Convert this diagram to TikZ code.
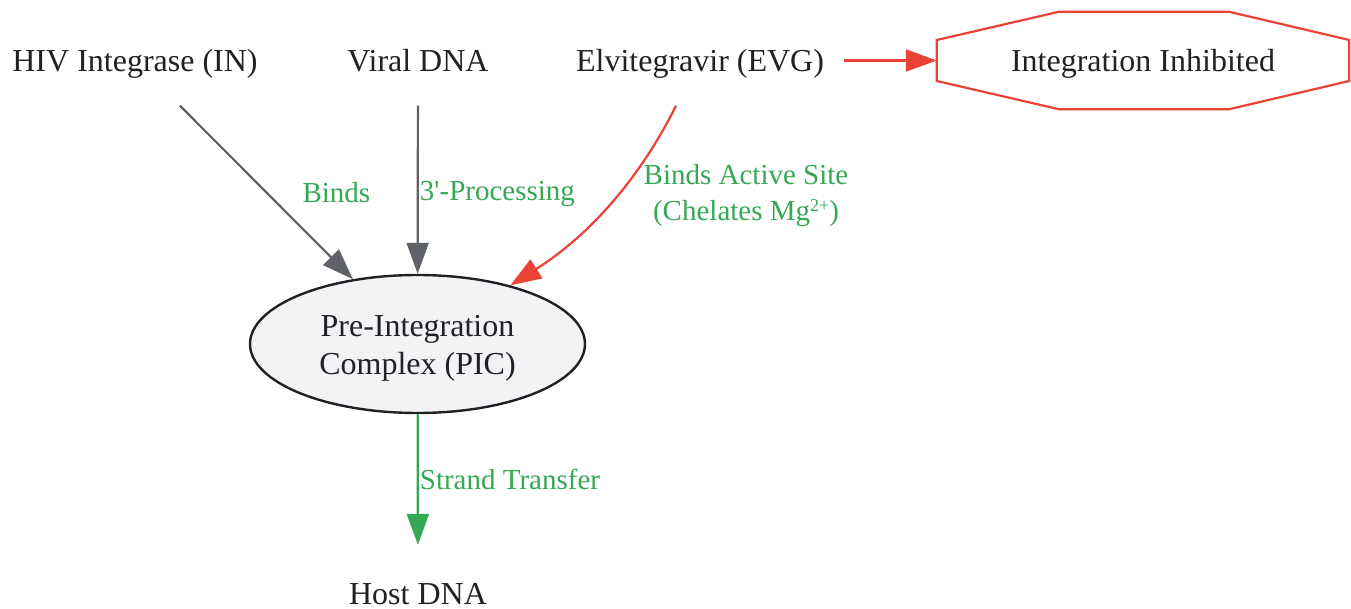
\documentclass[tikz,border=0pt]{standalone}
\usepackage{fontspec}
\setmainfont{Liberation Serif}
\usetikzlibrary{arrows.meta,shapes.geometric,calc}
\definecolor{txt}{HTML}{202124}
\definecolor{gedge}{HTML}{5F6368}
\definecolor{redc}{HTML}{EA4335}
\definecolor{greenc}{HTML}{34A853}
\definecolor{picfill}{HTML}{F1F3F4}
\tikzset{
  plain/.style={text=txt, font=\fontsize{32}{37}\selectfont, inner xsep=20pt, inner ysep=0pt,
    text height=21.2pt, text depth=0pt, minimum height=90pt},
  picnode/.style={ellipse, draw=txt, line width=2.4pt, fill=picfill, text=txt,
    font=\fontsize{32}{37.5}\selectfont, align=center, minimum width=335pt, minimum height=138pt, inner sep=0pt,
    text height=60pt, text depth=0pt},
  lbl/.style={text=greenc, font=\fontsize{29}{36}\selectfont, inner sep=1pt, align=center},
  tip/.style={-{Triangle[length=31pt,width=22pt]}},
  grayedge/.style={tip, draw=gedge, line width=2.2pt},
  rededge/.style={tip, draw=redc, line width=2.2pt},
  greenedge/.style={tip, draw=greenc, line width=2.2pt},
}
\begin{document}
\begin{tikzpicture}[x=1pt,y=-1pt]
\useasboundingbox (0,0) rectangle (1351,609);
\node[plain] (in) at (135,60.5) {HIV Integrase (IN)};
\node[plain] (viral) at (418,60.5) {Viral DNA};
\node[plain] (evg) at (700,60.5) {Elvitegravir (EVG)};
\node[plain, inner xsep=0pt, minimum width=412pt, minimum height=97pt] (ii) at (1143,60.5) {Integration Inhibited};
\draw[redc, line width=2.2pt]
  ($(ii.north west)+(122,0)$) -- ($(ii.north east)+(-120,0)$) --
  ($(ii.east)+(0,-20.5)$) -- ($(ii.east)+(0,20.5)$) --
  ($(ii.south east)+(-120,0)$) -- ($(ii.south west)+(122,0)$) --
  ($(ii.west)+(0,20.5)$) -- ($(ii.west)+(0,-20.5)$) -- cycle;
\node[picnode] (pic) at (417.5,344) {Pre-Integration\\Complex (PIC)};
\node[plain, minimum height=98pt] (host) at (418,594) {Host DNA};

\draw[grayedge] (in) -- node[lbl, midway, anchor=west, xshift=34pt] {Binds} (pic);
\draw[grayedge] (viral) -- node[lbl, midway, anchor=west, yshift=-4pt] {3\textquotesingle-Processing} (pic);
\draw[rededge] ($(evg.south)+(-24,0)$) .. controls (640,178) and (590,235) .. (pic);
\node[lbl] (evglbl) at (746,196) {Binds Active Site\\(Chelates Mg\raisebox{0.32em}{\fontsize{18}{18}\selectfont 2+})};
\draw[rededge] (evg.east) -- (evg.east -| ii.west);
\draw[greenedge] (pic) -- node[lbl, midway, anchor=west] {Strand Transfer} (host);
\end{tikzpicture}
\end{document}
